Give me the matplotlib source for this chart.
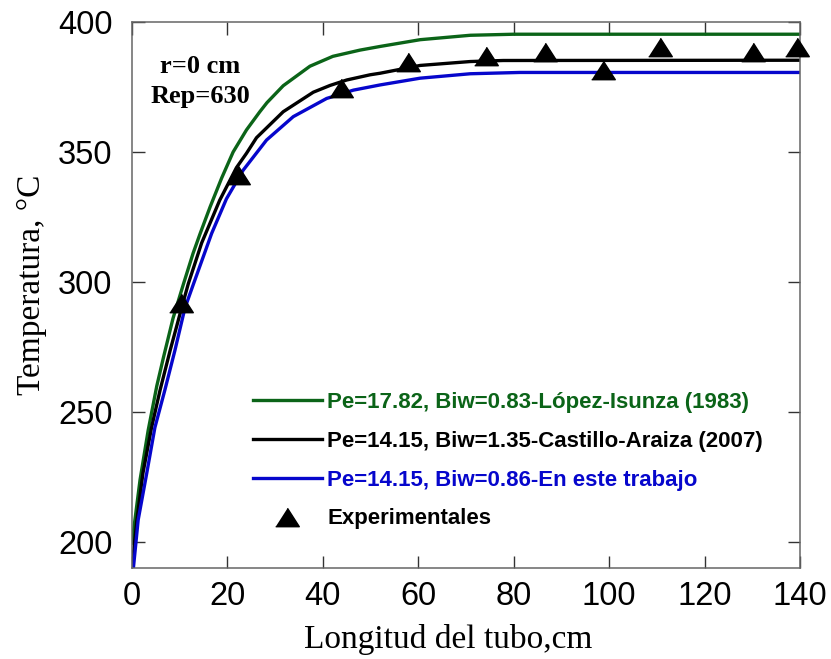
import matplotlib
matplotlib.use("Agg")
import matplotlib.pyplot as plt

GREEN = "#0b6418"
BLUE = "#0606cc"
INK = "#000000"
SPINE = "#666666"

# curves
lopez_x = [0, 1.7, 3.4, 5.2, 6.6, 8.6, 10.8, 12.8, 14.3, 16.4, 18.8, 21.2, 24, 26.8,
           28.3, 31.7, 37.3, 42.1, 47.8, 52, 60.4, 70.9, 80, 140]
lopez_y = [199.6, 224, 243, 260, 271, 286, 299.3, 311, 318.7, 329, 340, 350, 358.5, 365.5,
           369, 375.5, 383, 386.8, 389.2, 390.6, 393.2, 394.9, 395.3, 395.3]

castillo_x = [0, 1, 2.3, 4.1, 5.9, 8, 10.4, 11.8, 14.6, 18.4, 21.9, 24, 26.1, 31.7, 38,
              41.5, 45, 49.9, 52, 60.4, 70.9, 77.8, 140]
castillo_y = [190, 208, 226.5, 244, 258.5, 273.7, 290, 299.3, 315, 331.5, 344, 349.5, 355.5,
              365.5, 373, 375.6, 377.7, 379.7, 380.3, 383.3, 384.8, 385.2, 385.3]

trabajo_x = [0.3, 1.3, 3.1, 4.8, 6.9, 9, 11.1, 12.9, 16.7, 19.8, 23.3, 28.2, 33.8, 40.8,
             46.4, 52, 60.4, 70.9, 81.3, 140]
trabajo_y = [190, 208.5, 226.5, 244, 258.5, 273.7, 290, 299.3, 318.7, 332, 343, 354.6,
             363.6, 370.6, 373.8, 375.8, 378.4, 380.1, 380.6, 380.6]

exp_x = [10.3, 22.2, 43.8, 57.9, 74.2, 86.6, 98.7, 110.7, 130.2, 139.4]
exp_y = [292, 341, 374.6, 384.6, 387, 388.5, 381.5, 390.4, 388.5, 390.4]

labels = [
    "Pe=17.82, Biw=0.83-López-Isunza (1983)",
    "Pe=14.15, Biw=1.35-Castillo-Araiza (2007)",
    "Pe=14.15, Biw=0.86-En este trabajo",
    "Experimentales",
]

fig = plt.figure(figsize=(8.31, 6.59), dpi=100)
ax = fig.add_axes([0.1588, 0.138, 0.8039, 0.8286])

tri = [(-1, -0.78), (1, -0.78), (0, 0.78)]
kw = dict(lw=2.4, solid_joinstyle="round")
ax.plot(lopez_x, lopez_y, color=GREEN, label=labels[0], **kw)
ax.plot(castillo_x, castillo_y, color=INK, label=labels[1], **kw)
ax.plot(trabajo_x, trabajo_y, color=BLUE, label=labels[2], **kw)
ax.plot(exp_x, exp_y, ls="none", marker=tri, ms=17, color=INK, label=labels[3],
        clip_on=False, zorder=5)

ax.set_xlim(0, 140)
ax.set_ylim(190, 400)
ax.set_xticks(range(0, 141, 20))
ax.set_yticks(range(200, 401, 50))
ax.tick_params(direction="in", length=9, width=1, top=True, right=True,
               labelsize=23.5, color="#333333")
ax.tick_params(axis="x", pad=9)
ax.tick_params(axis="y", pad=14)
for lab in ax.get_xticklabels() + ax.get_yticklabels():
    lab.set_fontfamily("Liberation Sans")
for s in ax.spines.values():
    s.set_color(SPINE)
    s.set_linewidth(1.1)

ax.set_xlabel("Longitud del tubo,cm", fontsize=24, family="Liberation Serif")
ax.set_ylabel("Temperatura, °C", fontsize=24, family="Liberation Serif")
ax.xaxis.set_label_coords(0.473, -0.103)
ax.yaxis.set_label_coords(-0.127, 0.519)

ax.text(0.102, 0.918, "r=0 cm", transform=ax.transAxes, ha="center", va="center",
        fontsize=19, fontweight="bold", family="Liberation Serif")
ax.text(0.102, 0.864, "Rep=630", transform=ax.transAxes, ha="center", va="center",
        fontsize=19, fontweight="bold", family="Liberation Serif")

leg = ax.legend(loc="lower left", bbox_to_anchor=(0.181, 0.071), frameon=False,
                prop={"family": "Liberation Sans", "weight": "bold", "size": 16},
                handlelength=3.1, handletextpad=0.25, labelspacing=0.8, numpoints=1,
                borderpad=0, borderaxespad=0)
for txt, col in zip(leg.get_texts(), [GREEN, INK, BLUE, INK]):
    txt.set_color(col)

fig.savefig("out.png", dpi=100)
